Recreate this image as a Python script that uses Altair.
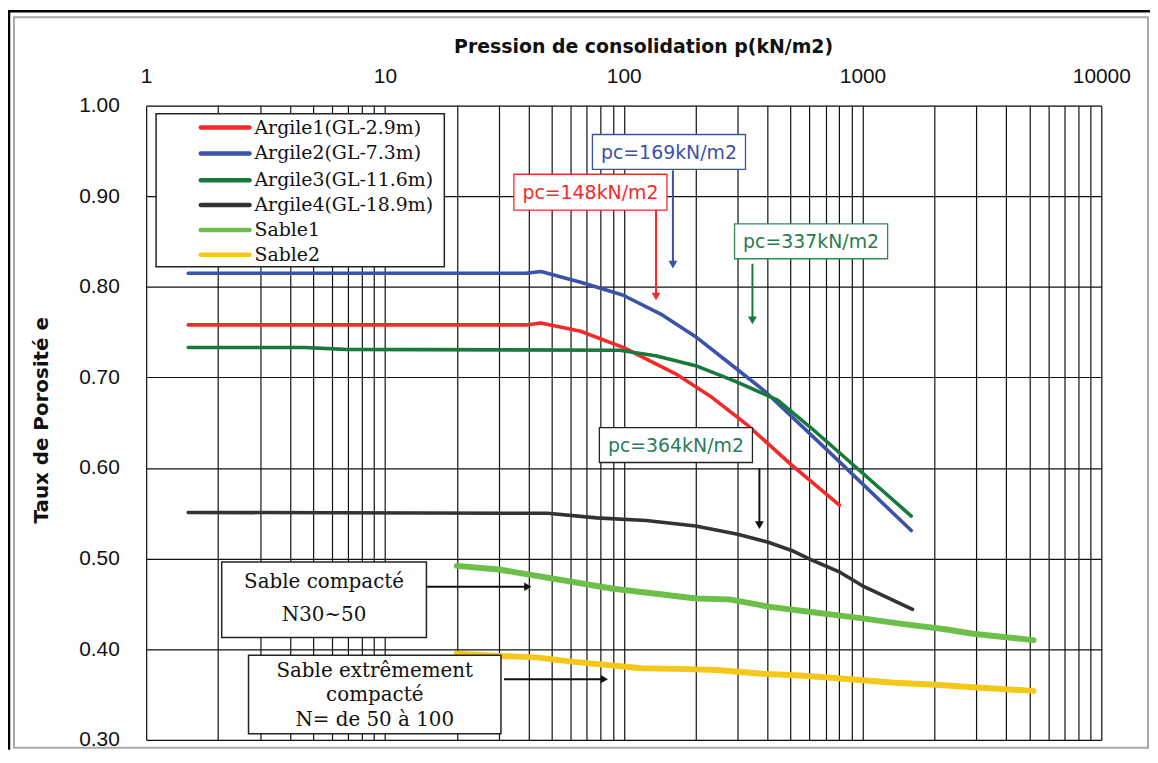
import json
import altair as alt
import pandas as pd

# ---------------- data ----------------
series_names = ["Argile1(GL-2.9m)", "Argile2(GL-7.3m)", "Argile3(GL-11.6m)",
                "Argile4(GL-18.9m)", "Sable1", "Sable2"]
series_colors = ["#f42a2a", "#3a52a8", "#17793a", "#333333", "#6cc04a", "#f5c71a"]
clay_names = series_names[:4]
sand_names = series_names[4:]

argile1_p = [1.5, 39, 45, 66, 100, 165, 234, 331, 501, 800]
argile1_e = [0.758, 0.758, 0.760, 0.751, 0.733, 0.704, 0.678, 0.647, 0.604, 0.559]

argile2_p = [1.5, 39, 45, 66, 99, 145, 200, 292, 389, 710, 1600]
argile2_e = [0.815, 0.815, 0.817, 0.805, 0.791, 0.769, 0.745, 0.711, 0.685, 0.620, 0.531]

argile3_p = [1.5, 4.6, 6.8, 96, 136, 200, 292, 441, 605, 832, 1600]
argile3_e = [0.733, 0.733, 0.731, 0.730, 0.724, 0.713, 0.696, 0.675, 0.645, 0.613, 0.547]

argile4_p = [1.5, 48, 77, 124, 200, 300, 403, 505, 607, 804, 1000, 1620]
argile4_e = [0.551, 0.550, 0.545, 0.542, 0.536, 0.527, 0.518, 0.509, 0.499, 0.485, 0.470, 0.444]

sable1_p = [20, 30, 89, 201, 277, 403, 607, 1000, 1463, 2218, 2900, 5200]
sable1_e = [0.492, 0.488, 0.467, 0.456, 0.455, 0.447, 0.441, 0.434, 0.428, 0.422, 0.417, 0.410]

sable2_p = [20, 30, 43, 62, 119, 184, 245, 380, 548, 789, 1362, 1957, 2900, 5200]
sable2_e = [0.395, 0.3925, 0.391, 0.386, 0.379, 0.378, 0.377, 0.373, 0.371, 0.368,
            0.363, 0.361, 0.358, 0.354]

x_tick_values = [m * 10 ** k for k in range(4) for m in range(1, 10)] + [10000]
x_label_values = [1, 10, 100, 1000, 10000]
y_tick_values = [0.30, 0.40, 0.50, 0.60, 0.70, 0.80, 0.90, 1.00]

pc_labels = ["pc=148kN/m2", "pc=169kN/m2", "pc=337kN/m2", "pc=364kN/m2"]
sand_box_1 = ["Sable compacté", "N30~50"]
sand_box_2 = ["Sable extrêmement", "compacté", "N= de 50 à 100"]

x_title = "Pression de consolidation p(kN/m2)"
y_title = "Taux de Porosité e"

# ---------------- table ----------------
all_p = [argile1_p, argile2_p, argile3_p, argile4_p, sable1_p, sable2_p]
all_e = [argile1_e, argile2_e, argile3_e, argile4_e, sable1_e, sable2_e]
rows = []
for name, ps, es in zip(series_names, all_p, all_e):
    for p, e in zip(ps, es):
        rows.append({"serie": name, "p": p, "e": e})
df = pd.DataFrame(rows)
one = pd.DataFrame({"k": [0]})

# ---------------- layout helpers (page pixels -> plot pixels) ----------------
X0, Y0 = 147, 104
W, H = 961, 638


def px(x):
    return x - X0


def py(y):
    return y - Y0


SERIF = "DejaVu Serif"
SANS = "Liberation Sans"

label_expr = "indexof(%s, datum.value) >= 0 ? format(datum.value, 'd') : ''" % json.dumps(x_label_values)

x_enc = alt.X("p:Q",
              scale=alt.Scale(type="log", domain=[1, 10000], nice=False),
              axis=alt.Axis(orient="top", values=x_tick_values, labelExpr=label_expr,
                            grid=True, gridColor="#111111", gridWidth=1.2, gridOpacity=1,
                            ticks=False, domain=False, labelOverlap=False, labelFlush=False,
                            labelFont=SANS, labelFontSize=21, labelColor="#111111",
                            labelPadding=19,
                            title=x_title, titleFont="DejaVu Sans", titleFontSize=19,
                            titleFontWeight="bold", titleColor="#111111",
                            titleX=500, titleY=-60, titleBaseline="middle",
                            titleAlign="center", titleAnchor="middle"))
y_enc = alt.Y("e:Q",
              scale=alt.Scale(domain=[0.3, 1.0], nice=False, zero=False),
              axis=alt.Axis(values=y_tick_values, format=".2f",
                            grid=True, gridColor="#111111", gridWidth=1.2, gridOpacity=1,
                            ticks=False, domain=False, labelFlush=False,
                            labelFont=SANS, labelFontSize=21, labelColor="#111111",
                            labelPadding=27,
                            title=y_title, titleFont="DejaVu Sans", titleFontSize=20,
                            titleFontWeight="bold", titleColor="#111111",
                            titleX=-105, titleY=316, titleAngle=270,
                            titleBaseline="middle", titleAlign="center"))
color_enc = alt.Color("serie:N", scale=alt.Scale(domain=series_names, range=series_colors),
                      legend=None)

base = alt.Chart(df).encode(x=x_enc, y=y_enc, color=color_enc, detail="serie:N")
clay_lines = base.transform_filter(
    alt.FieldOneOfPredicate(field="serie", oneOf=clay_names)
).mark_line(strokeWidth=3.6, strokeCap="round", strokeJoin="round")
sand_lines = base.transform_filter(
    alt.FieldOneOfPredicate(field="serie", oneOf=sand_names)
).mark_line(strokeWidth=6, strokeCap="round", strokeJoin="round")

layers = []

# outer page frame
layers.append(alt.Chart(one).mark_rect(fillOpacity=0, stroke="#a8a8a8", strokeWidth=2).encode(
    x=alt.value(px(14)), x2=alt.value(px(1155)), y=alt.value(py(15)), y2=alt.value(py(750))))
layers.append(alt.Chart(one).mark_rule(color="black", strokeWidth=2.5).encode(
    x=alt.value(px(8)), x2=alt.value(px(1157)), y=alt.value(py(9))))
layers.append(alt.Chart(one).mark_rule(color="black", strokeWidth=2.5).encode(
    x=alt.value(px(9)), y=alt.value(py(8)), y2=alt.value(py(752))))

layers.append(sand_lines)
layers.append(clay_lines)

# ---------------- legend box ----------------
layers.append(alt.Chart(one).mark_rect(fill="white", stroke="#222222", strokeWidth=1.5).encode(
    x=alt.value(px(157)), x2=alt.value(px(447)), y=alt.value(py(112)), y2=alt.value(py(266))))
legend_rows_y = [126, 152, 179, 204, 229, 254]
for name, color, ry in zip(series_names, series_colors, legend_rows_y):
    layers.append(alt.Chart(one).mark_rule(color=color, strokeWidth=4.5, strokeCap="round").encode(
        x=alt.value(px(202)), x2=alt.value(px(251)), y=alt.value(py(ry))))
    layers.append(alt.Chart(one).mark_text(text=name, font=SERIF, fontSize=19, align="left",
                                           baseline="middle", color="#111111").encode(
        x=alt.value(px(256)), y=alt.value(py(ry))))

# ---------------- pc annotations ----------------
pc_boxes = [(517, 173, 671, 209), (596, 133, 750, 168), (739, 223, 893, 258), (603, 428, 757, 463)]
pc_box_colors = ["#f42a2a", "#3a52a8", "#2e8b57", "#222222"]
pc_text_colors = ["#f42a2a", "#3a52a8", "#2a7a50", "#2a7a62"]
pc_arrows = [(660, 209, 300), (677, 169, 268), (757, 263, 324), (764, 469, 530)]
pc_arrow_colors = ["#f42a2a", "#3a52a8", "#17793a", "#111111"]
for lab, (bx1, by1, bx2, by2), bc, tc, (ax, ay1, ay2), ac in zip(
        pc_labels, pc_boxes, pc_box_colors, pc_text_colors, pc_arrows, pc_arrow_colors):
    layers.append(alt.Chart(one).mark_rect(fill="white", stroke=bc, strokeWidth=1.3).encode(
        x=alt.value(px(bx1)), x2=alt.value(px(bx2)), y=alt.value(py(by1)), y2=alt.value(py(by2))))
    layers.append(alt.Chart(one).mark_text(text=lab, font="DejaVu Sans", fontSize=19,
                                           align="center", baseline="middle", color=tc).encode(
        x=alt.value(px((bx1 + bx2) / 2)), y=alt.value(py((by1 + by2) / 2 + 1))))
    layers.append(alt.Chart(one).mark_rule(color=ac, strokeWidth=2).encode(
        x=alt.value(px(ax)), y=alt.value(py(ay1)), y2=alt.value(py(ay2 - 6))))
    layers.append(alt.Chart(one).mark_point(shape="triangle-down", filled=True, size=80,
                                            color=ac, opacity=1).encode(
        x=alt.value(px(ax)), y=alt.value(py(ay2 - 4))))

# ---------------- sand annotations ----------------
sand_boxes = [((223, 563, 429, 639), sand_box_1, [583, 616], (429, 535, 588)),
              ((250, 657, 504, 736), sand_box_2, [673, 697, 722], (507, 612, 681))]
for (bx1, by1, bx2, by2), texts, ty, (ax1, ax2, ay) in sand_boxes:
    layers.append(alt.Chart(one).mark_rect(fill="white", stroke="#222222", strokeWidth=1.5).encode(
        x=alt.value(px(bx1)), x2=alt.value(px(bx2)), y=alt.value(py(by1)), y2=alt.value(py(by2))))
    for t, yy in zip(texts, ty):
        layers.append(alt.Chart(one).mark_text(text=t, font=SERIF, fontSize=20, align="center",
                                               baseline="middle", color="#111111").encode(
            x=alt.value(px((bx1 + bx2) / 2)), y=alt.value(py(yy))))
    layers.append(alt.Chart(one).mark_rule(color="#111111", strokeWidth=2).encode(
        x=alt.value(px(ax1)), x2=alt.value(px(ax2 - 6)), y=alt.value(py(ay))))
    layers.append(alt.Chart(one).mark_point(shape="triangle-right", filled=True, size=70,
                                            color="#111111", opacity=1).encode(
        x=alt.value(px(ax2 - 4)), y=alt.value(py(ay))))

chart = alt.layer(*layers).properties(
    width=W, height=H,
    autosize=alt.AutoSizeParams(type="none"),
    padding={"left": 139, "top": 96, "right": 49, "bottom": 10},
).configure_view(stroke="#111111", strokeWidth=1.5).configure(background="white")

chart.save("out.html", embed_options={"renderer": "svg", "actions": False})
